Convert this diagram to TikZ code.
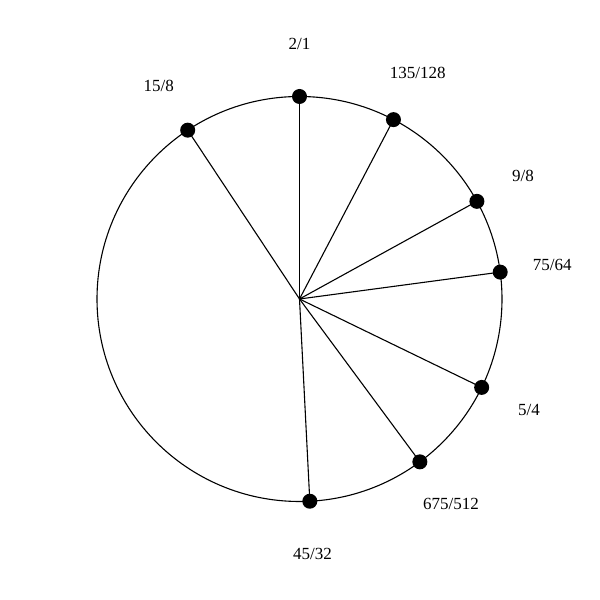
\documentclass[tikz,border=0pt]{standalone}
\usepackage{fontspec}
\setmainfont{Liberation Serif}
\usetikzlibrary{calc}
\begin{document}
\begin{tikzpicture}[x=1pt,y=1pt,
  dot/.style={circle,fill=black,inner sep=0pt,minimum size=15pt},
  lbl/.style={font=\fontsize{17}{20}\selectfont,inner sep=0pt},
  ln/.style={line width=1.1pt}]
\useasboundingbox (0,0) rectangle (600,600);
\coordinate (c) at (299.5,301);
\draw[ln] (c) circle (202.5);
\foreach \n/\t/\a in {a/2\slash 1/0, b/135\slash 128/27.65, d/9\slash 8/61.17, e/75\slash 64/82.37, f/5\slash 4/115.89, g/675\slash 512/143.53, h/45\slash 32/177.08, i/15\slash 8/326.49}{
  \draw[ln] (c) -- ($(c)+({90-\a}:202.5)$) coordinate (p\n);
  \node[dot] (d\n) at (p\n) {};
  \node[lbl] (l\n) at ($(c)+({90-\a}:255)$) {\t};
}
\end{tikzpicture}
\end{document}
